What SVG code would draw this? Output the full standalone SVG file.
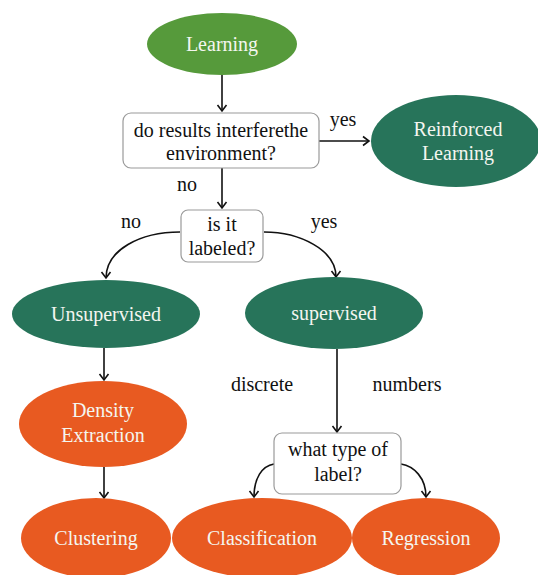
<svg xmlns="http://www.w3.org/2000/svg" width="538" height="575" viewBox="0 0 538 575">
<style>
text{text-anchor:middle;font-family:'Liberation Serif',serif !important;font-size:20px}
.w{fill:#f4f6f0}
.k{fill:#111}
.box{fill:#fff;stroke:#9a9a9a;stroke-width:1.2}
.lg{fill:#569a3b}
.dg{fill:#27745a}
.or{fill:#e85a21}
.c{fill:none;stroke:#111;stroke-width:1.6}
</style>
<defs>
<marker id="a" markerWidth="12" markerHeight="12" refX="9" refY="6" orient="auto" markerUnits="userSpaceOnUse">
<path d="M3,1.5 L9,6 L3,10.5" fill="none" stroke="#111" stroke-width="1.6"/>
</marker>
</defs>
<rect width="538" height="575" fill="#fff"/>
<g id="connectors">
<path class="c" d="M222,75 V111" marker-end="url(#a)"/>
<path class="c" d="M319,141 H369" marker-end="url(#a)"/>
<path class="c" d="M222,168 V208" marker-end="url(#a)"/>
<path class="c" d="M180,232 C140,232 106,250 106,278" marker-end="url(#a)"/>
<path class="c" d="M264,232 C300,232 336,250 336,277" marker-end="url(#a)"/>
<path class="c" d="M104,348 V380" marker-end="url(#a)"/>
<path class="c" d="M104,467 V498" marker-end="url(#a)"/>
<path class="c" d="M337,349 V432" marker-end="url(#a)"/>
<path class="c" d="M274,464 C262,466 254,478 254,497" marker-end="url(#a)"/>
<path class="c" d="M401,464 C414,466 426,478 426,497" marker-end="url(#a)"/>
</g>
<g id="labels">
<text class="k" style="font-family:'Liberation Serif',serif" x="343" y="126">yes</text>
<text class="k" style="font-family:'Liberation Serif',serif" x="187" y="191">no</text>
<text class="k" style="font-family:'Liberation Serif',serif" x="131" y="228">no</text>
<text class="k" style="font-family:'Liberation Serif',serif" x="324" y="228">yes</text>
<text class="k" style="font-family:'Liberation Serif',serif" x="262" y="391">discrete</text>
<text class="k" style="font-family:'Liberation Serif',serif" x="407" y="391">numbers</text>
</g>
<g id="learning">
<ellipse class="lg" cx="222" cy="44" rx="75" ry="31"/>
<text class="w" style="font-family:'Liberation Serif',serif" x="222" y="51">Learning</text>
</g>
<g id="q-interfere">
<rect class="box" x="123" y="113" width="196" height="55" rx="8"/>
<text class="k" style="font-family:'Liberation Serif',serif" x="221" y="137">do results interferethe</text>
<text class="k" style="font-family:'Liberation Serif',serif" x="221" y="160">environment?</text>
</g>
<g id="reinforced">
<ellipse class="dg" cx="456" cy="141" rx="85" ry="46"/>
<text class="w" style="font-family:'Liberation Serif',serif" x="458" y="136">Reinforced</text>
<text class="w" style="font-family:'Liberation Serif',serif" x="458" y="160">Learning</text>
</g>
<g id="q-labeled">
<rect class="box" x="181" y="210" width="82" height="52" rx="7"/>
<text class="k" style="font-family:'Liberation Serif',serif" x="222" y="231">is it</text>
<text class="k" style="font-family:'Liberation Serif',serif" x="222" y="255">labeled?</text>
</g>
<g id="unsupervised">
<ellipse class="dg" cx="106" cy="314" rx="94" ry="34"/>
<text class="w" style="font-family:'Liberation Serif',serif" x="106" y="321">Unsupervised</text>
</g>
<g id="supervised">
<ellipse class="dg" cx="334" cy="313" rx="89" ry="36"/>
<text class="w" style="font-family:'Liberation Serif',serif" x="334" y="320">supervised</text>
</g>
<g id="density">
<ellipse class="or" cx="103" cy="424" rx="84" ry="43"/>
<text class="w" style="font-family:'Liberation Serif',serif" x="103" y="417">Density</text>
<text class="w" style="font-family:'Liberation Serif',serif" x="103" y="442">Extraction</text>
</g>
<g id="q-type">
<rect class="box" x="274" y="433" width="127" height="61" rx="8"/>
<text class="k" style="font-family:'Liberation Serif',serif" x="338" y="456">what type of</text>
<text class="k" style="font-family:'Liberation Serif',serif" x="338" y="481">label?</text>
</g>
<g id="clustering">
<ellipse class="or" cx="96" cy="538" rx="75" ry="40"/>
<text class="w" style="font-family:'Liberation Serif',serif" x="96" y="545">Clustering</text>
</g>
<g id="classification">
<ellipse class="or" cx="262" cy="538" rx="90" ry="40"/>
<text class="w" style="font-family:'Liberation Serif',serif" x="262" y="545">Classification</text>
</g>
<g id="regression">
<ellipse class="or" cx="426" cy="538" rx="74" ry="40"/>
<text class="w" style="font-family:'Liberation Serif',serif" x="426" y="545">Regression</text>
</g>
</svg>
